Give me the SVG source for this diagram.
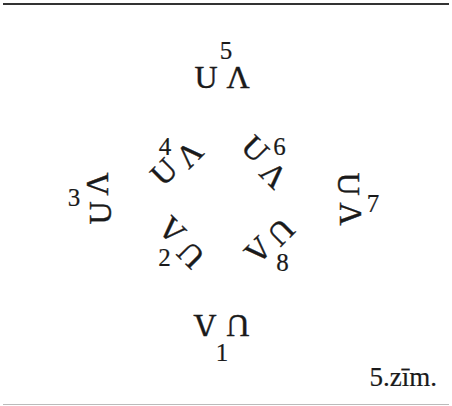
<svg xmlns="http://www.w3.org/2000/svg" width="452" height="406" viewBox="0 0 452 406">
<style>
text{font-family:"Liberation Serif",serif;fill:#1a1a1a;text-anchor:middle}
.g{font-size:32px;stroke:#1a1a1a;stroke-width:0.4px}
.n{font-size:25px;stroke:#1a1a1a;stroke-width:0.2px}
.cap{font-size:27px;text-anchor:end;stroke:#1a1a1a;stroke-width:0.2px}
</style>
<rect x="3" y="3" width="446" height="2" fill="#333"/>
<rect x="3" y="404" width="446" height="1" fill="#bbb"/>
<g id="pair5">
<text class="g" transform="translate(206,77)" y="10.5">U</text>
<text class="g" transform="translate(238,77)" y="10.5">Λ</text>
<text class="n" x="226" y="59">5</text>
</g>
<g id="pair6">
<text class="g" transform="translate(255,149) rotate(45)" y="10.5">U</text>
<text class="g" transform="translate(273.5,175) rotate(45)" y="10.5">Λ</text>
<text class="n" x="279.5" y="154.5">6</text>
</g>
<g id="pair7">
<text class="g" transform="translate(348,184) rotate(90)" y="10.5">U</text>
<text class="g" transform="translate(350,214) rotate(90)" y="10.5">Λ</text>
<text class="n" x="373" y="211.5">7</text>
</g>
<g id="pair8">
<text class="g" transform="translate(281,232) rotate(135)" y="10.5">U</text>
<text class="g" transform="translate(258,250) rotate(135)" y="10.5">Λ</text>
<text class="n" x="282.5" y="271">8</text>
</g>
<g id="pair1">
<text class="g" transform="translate(238,325) rotate(180)" y="10.5">U</text>
<text class="g" transform="translate(205,325) rotate(180)" y="10.5">Λ</text>
<text class="n" x="222" y="360.5">1</text>
</g>
<g id="pair2">
<text class="g" transform="translate(191,255) rotate(225)" y="10.5">U</text>
<text class="g" transform="translate(172,230) rotate(225)" y="10.5">Λ</text>
<text class="n" x="164.5" y="266">2</text>
</g>
<g id="pair3">
<text class="g" transform="translate(100,213) rotate(270)" y="10.5">U</text>
<text class="g" transform="translate(97.5,184) rotate(270)" y="10.5">Λ</text>
<text class="n" x="74" y="206">3</text>
</g>
<g id="pair4">
<text class="g" transform="translate(164,172) rotate(315)" y="10.5">U</text>
<text class="g" transform="translate(189.5,154.5) rotate(315)" y="10.5">Λ</text>
<text class="n" x="165" y="155">4</text>
</g>
<text class="cap" x="437" y="386">5.zīm.</text>
</svg>
